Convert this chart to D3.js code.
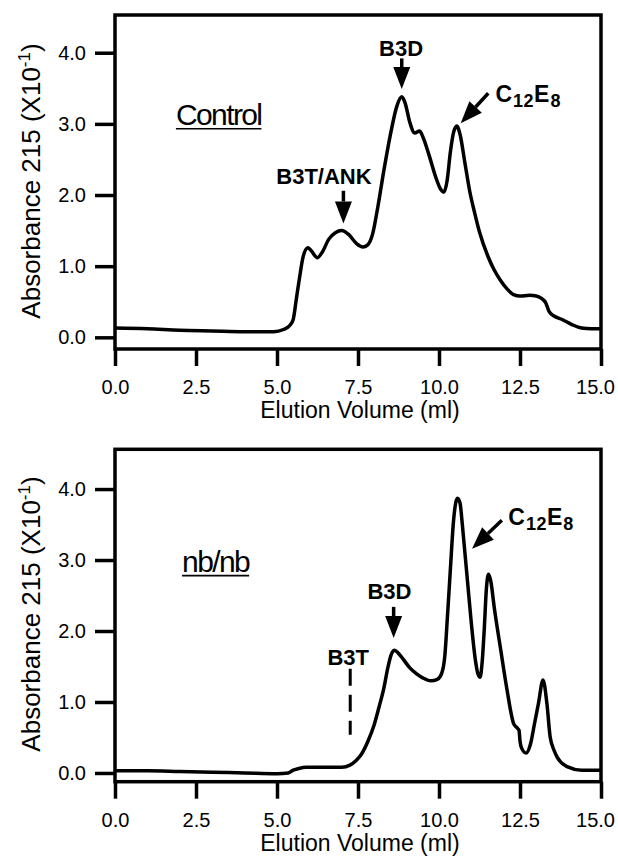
<!DOCTYPE html>
<html>
<head>
<meta charset="utf-8">
<script src="https://cdn.jsdelivr.net/npm/d3@7"></script>
<style>
  body { margin: 0; background: #fff; }
  svg { display: block; font-family: "Liberation Sans", Arial, Helvetica, sans-serif; }
</style>
</head>
<body>
<div id="chart"></div>
<script>
// elution volume (ml), absorbance 215 (x10^-1)
const controlTrace = [
  [0, 0.13], [1, 0.12], [2, 0.1], [3, 0.09], [4, 0.08], [4.9, 0.08], [5.2, 0.11],
  [5.4, 0.17], [5.5, 0.25], [5.6, 0.55], [5.7, 0.85], [5.8, 1.12], [5.95, 1.26],
  [6.05, 1.22], [6.25, 1.12], [6.4, 1.2], [6.6, 1.38], [6.8, 1.47], [7.0, 1.5],
  [7.2, 1.45], [7.45, 1.32], [7.65, 1.27], [7.8, 1.3], [7.95, 1.45], [8.1, 1.8],
  [8.3, 2.35], [8.5, 2.85], [8.7, 3.25], [8.85, 3.38], [8.95, 3.3], [9.1, 3.02],
  [9.25, 2.87], [9.4, 2.9], [9.5, 2.82], [9.7, 2.55], [9.9, 2.25], [10.05, 2.08],
  [10.15, 2.04], [10.25, 2.2], [10.35, 2.6], [10.45, 2.88], [10.55, 2.97],
  [10.65, 2.85], [10.8, 2.45], [10.95, 2.05], [11.1, 1.75], [11.25, 1.48],
  [11.5, 1.15], [11.7, 0.95], [11.9, 0.8], [12.1, 0.68], [12.3, 0.6], [12.5, 0.58],
  [12.8, 0.59], [13.0, 0.58], [13.15, 0.55], [13.3, 0.48], [13.4, 0.36],
  [13.55, 0.3], [13.8, 0.25], [14.1, 0.18], [14.4, 0.13], [14.7, 0.12], [15, 0.12],
];

const nbTrace = [
  [0, 0.03], [1, 0.03], [2, 0.02], [3, 0.01], [4, 0.0], [5, -0.01], [5.35, 0.0],
  [5.5, 0.04], [5.65, 0.06], [5.9, 0.08], [6.5, 0.08], [7.0, 0.08], [7.25, 0.11],
  [7.45, 0.18], [7.6, 0.26], [7.8, 0.44], [8.0, 0.68], [8.15, 0.93], [8.3, 1.2],
  [8.42, 1.48], [8.52, 1.66], [8.62, 1.73], [8.72, 1.7], [8.9, 1.6], [9.1, 1.48],
  [9.3, 1.4], [9.5, 1.34], [9.75, 1.3], [9.95, 1.32], [10.08, 1.4], [10.18, 1.65],
  [10.26, 2.2], [10.35, 2.86], [10.45, 3.56], [10.57, 3.87], [10.65, 3.8],
  [10.72, 3.5], [10.8, 3.1], [10.88, 2.7], [11.0, 2.1], [11.12, 1.6], [11.2, 1.4],
  [11.27, 1.35], [11.33, 1.55], [11.4, 2.05], [11.46, 2.58], [11.53, 2.8],
  [11.6, 2.7], [11.7, 2.35], [11.9, 1.75], [12.1, 1.17], [12.3, 0.7], [12.42, 0.63],
  [12.47, 0.6], [12.5, 0.45], [12.55, 0.35], [12.69, 0.28], [12.82, 0.4],
  [12.95, 0.7], [13.07, 0.98], [13.21, 1.31], [13.33, 0.98], [13.43, 0.51],
  [13.55, 0.32], [13.65, 0.22], [13.95, 0.09], [14.4, 0.04], [15, 0.04],
];

const xTicks = [0, 2.5, 5, 7.5, 10, 12.5, 15];
const yTicks = [0, 1, 2, 3, 4];
const xTitle = "Elution Volume (ml)";

// annotations, in data units
const controlName = { text: "Control", at: [1.88, 2.98] };
const controlLabels = [
  { text: "B3D", at: [8.83, 3.95] },
  { text: "B3T/ANK", at: [6.45, 2.16] },
];
const controlArrows = [
  { from: [8.85, 3.92], to: [8.85, 3.49] },
  { from: [7.05, 2.06], to: [7.05, 1.6] },
  { from: [11.52, 3.43], to: [10.67, 3.01] },
];
const controlDetergent = [11.74, 3.31];

const nbName = { text: "nb/nb", at: [2.07, 2.83] };
const nbLabels = [
  { text: "B3D", at: [8.47, 2.45] },
  { text: "B3T", at: [7.2, 1.52] },
];
const nbArrows = [
  { from: [8.6, 2.34], to: [8.6, 1.9] },
  { from: [11.94, 3.56], to: [11.02, 3.16] },
];
const nbDashes = [{ from: [7.26, 1.47], to: [7.26, 0.54] }];
const nbDetergent = [12.14, 3.49];

const svg = d3
  .select("#chart")
  .append("svg")
  .attr("width", 618)
  .attr("height", 863);

function drawPanel(box, trace, name, labels, arrows, dashes, detergent) {
  const x = d3.scaleLinear().domain([0, 15]).range([box.left, box.right]);
  const y = d3
    .scaleLinear()
    .domain([box.yMin, box.yMax])
    .range([box.bottom, box.top]);

  const g = svg.append("g");

  // y ticks
  g.append("g")
    .attr("transform", `translate(${box.left},0)`)
    .call(
      d3.axisLeft(y).tickValues(yTicks).tickSize(20).tickPadding(9)
        .tickFormat(d3.format(".1f"))
    )
    .call((a) => a.select(".domain").remove())
    .call((a) => a.selectAll("line").attr("stroke-width", 3.5))
    .call((a) =>
      a.selectAll("text").attr("font-size", 20).attr("fill", "#000")
        .attr("font-family", null)
    );

  // x ticks
  g.append("g")
    .attr("transform", `translate(0,${box.bottom})`)
    .call(
      d3.axisBottom(x).tickValues(xTicks).tickSize(17).tickPadding(14)
        .tickFormat(d3.format(".1f"))
    )
    .call((a) => a.select(".domain").remove())
    .call((a) => a.selectAll("line").attr("stroke-width", 3.5))
    .call((a) =>
      a.selectAll("text").attr("font-size", 20).attr("fill", "#000")
        .attr("font-family", null)
        .attr("dx", (d) => (d === 15 ? -6 : 0))
    );

  g.append("rect")
    .attr("x", box.left)
    .attr("y", box.top)
    .attr("width", box.right - box.left)
    .attr("height", box.bottom - box.top)
    .attr("fill", "none")
    .attr("stroke", "#000")
    .attr("stroke-width", 3.5);

  g.append("path")
    .datum(trace)
    .attr("fill", "none")
    .attr("stroke", "#000")
    .attr("stroke-width", 3.5)
    .attr("stroke-linejoin", "round")
    .attr(
      "d",
      d3.line().x((d) => x(d[0])).y((d) => y(d[1])).curve(d3.curveMonotoneX)
    );

  // axis titles
  g.append("text")
    .attr("x", (box.left + box.right) / 2 + 2)
    .attr("y", box.bottom + 69)
    .attr("text-anchor", "middle")
    .attr("font-size", 23)
    .text(xTitle);

  const yt = g
    .append("text")
    .attr("transform", `translate(40,${box.yTitle}) rotate(-90)`)
    .attr("text-anchor", "middle")
    .attr("font-size", 26);
  yt.append("tspan").text("Absorbance 215 (X10");
  yt.append("tspan").attr("font-size", 17).attr("dy", -10).text("-1");
  yt.append("tspan").attr("dy", 10).text(")");

  // sample name, underlined
  const nm = g
    .append("text")
    .attr("x", x(name.at[0]))
    .attr("y", y(name.at[1]))
    .attr("font-size", 30)
    .attr("letter-spacing", -1.6)
    .text(name.text);
  const w = nm.node().getComputedTextLength();
  g.append("line")
    .attr("x1", x(name.at[0]))
    .attr("x2", x(name.at[0]) + w)
    .attr("y1", y(name.at[1]) + 3.5)
    .attr("y2", y(name.at[1]) + 3.5)
    .attr("stroke", "#000")
    .attr("stroke-width", 1.6);

  g.selectAll(".peak")
    .data(labels)
    .enter()
    .append("text")
    .attr("class", "peak")
    .attr("x", (d) => x(d.at[0]))
    .attr("y", (d) => y(d.at[1]))
    .attr("text-anchor", "middle")
    .attr("font-size", 22)
    .attr("font-weight", "bold")
    .text((d) => d.text);

  // C12E8 with subscripts
  const det = g
    .append("text")
    .attr("x", x(detergent[0]))
    .attr("y", y(detergent[1]))
    .attr("font-size", 23)
    .attr("font-weight", "bold");
  det.append("tspan").text("C");
  det.append("tspan").attr("dx", 1).attr("dy", 5).attr("font-size", 18)
    .attr("letter-spacing", 0.5).text("12");
  det.append("tspan").attr("dx", 0).attr("dy", -5).text("E");
  det.append("tspan").attr("dx", 1).attr("dy", 5).attr("font-size", 18).text("8");

  // arrows: shaft plus filled head
  arrows.forEach((d) => {
    const x0 = x(d.from[0]), y0 = y(d.from[1]);
    const x1 = x(d.to[0]), y1 = y(d.to[1]);
    const len = Math.hypot(x1 - x0, y1 - y0);
    const ux = (x1 - x0) / len, uy = (y1 - y0) / len;
    const head = 22, half = 8.5;
    const bx = x1 - ux * head, by = y1 - uy * head;
    g.append("line")
      .attr("x1", x0).attr("y1", y0)
      .attr("x2", bx).attr("y2", by)
      .attr("stroke", "#000")
      .attr("stroke-width", 3.5);
    g.append("path")
      .attr(
        "d",
        `M${x1},${y1}L${bx - uy * half},${by + ux * half}L${bx + uy * half},${by - ux * half}Z`
      )
      .attr("fill", "#000");
  });

  dashes.forEach((d) => {
    g.append("line")
      .attr("x1", x(d.from[0])).attr("y1", y(d.from[1]))
      .attr("x2", x(d.to[0])).attr("y2", y(d.to[1]))
      .attr("stroke", "#000")
      .attr("stroke-width", 3)
      .attr("stroke-dasharray", "17,9");
  });
}

drawPanel(
  { left: 115, right: 601, top: 15, bottom: 349, yMin: -0.164, yMax: 4.53, yTitle: 181 },
  controlTrace, controlName, controlLabels, controlArrows, [], controlDetergent
);
drawPanel(
  { left: 115, right: 601, top: 449.3, bottom: 781.7, yMin: -0.123, yMax: 4.56, yTitle: 614 },
  nbTrace, nbName, nbLabels, nbArrows, nbDashes, nbDetergent
);
</script>
</body>
</html>
